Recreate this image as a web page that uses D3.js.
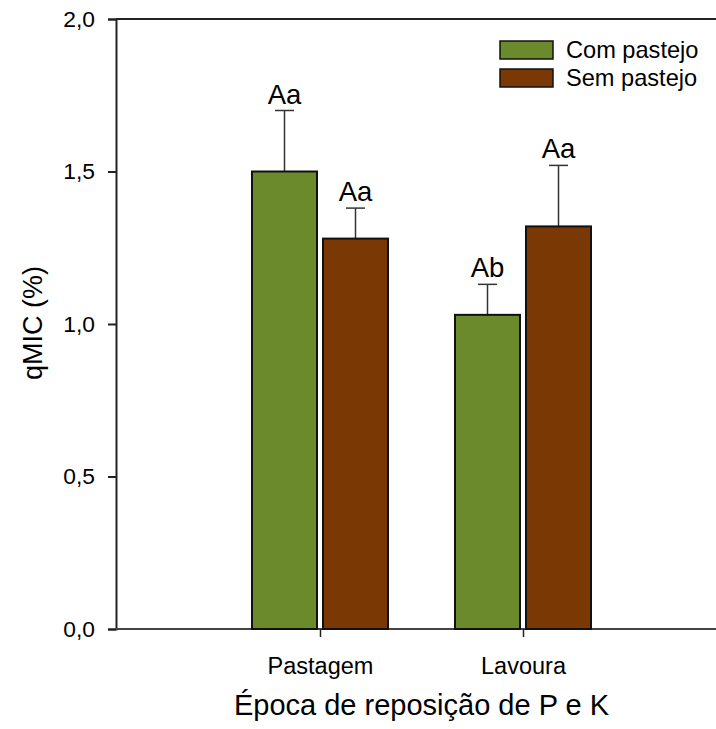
<!DOCTYPE html>
<html><head><meta charset="utf-8">
<script src="https://cdn.jsdelivr.net/npm/d3@7"></script>
<style>body{margin:0;background:#fff}svg{display:block}text{font-family:Arial,"Liberation Sans",sans-serif;fill:#000}</style>
</head><body>
<svg id="c" width="716" height="729"></svg>
<script>
const categories = ["Pastagem", "Lavoura"];
const seriesNames = ["Com pastejo", "Sem pastejo"];
const comPastejo = [1.50, 1.03];
const semPastejo = [1.28, 1.32];
const comErr = [0.20, 0.10];
const semErr = [0.10, 0.20];
const comLetters = ["Aa", "Ab"];
const semLetters = ["Aa", "Aa"];
const yTicks = [0, 0.5, 1.0, 1.5, 2.0];
const colors = ["#6b8a2b", "#7a3805"];

(function () {
const svg = d3.select("#c");
const mLeft = 116, mRight = 716, mTop = 19, mBottom = 629;
const y = d3.scaleLinear().domain([0, 2]).range([mBottom, mTop]);
const x = d3.scaleLinear().domain([0, 3]).range([117, 726]);
const barW = 65, gap = 3;

svg.append("line").attr("x1", mLeft).attr("x2", mRight).attr("y1", mTop).attr("y2", mTop)
  .attr("stroke", "#222").attr("stroke-width", 2);

const ya = svg.append("g").attr("transform", `translate(${mLeft},0)`)
  .call(d3.axisLeft(y).tickValues(yTicks).tickSize(8).tickPadding(13)
    .tickFormat(d => d3.format(".1f")(d).replace(".", ",")));
ya.select(".domain").attr("stroke", "#222").attr("stroke-width", 2);
ya.selectAll(".tick line").attr("stroke", "#222").attr("stroke-width", 2);
ya.selectAll("text").attr("font-size", 22.8).attr("font-family", "Arial").attr("fill", "#000");

const xa = svg.append("g").attr("transform", `translate(0,${mBottom})`)
  .call(d3.axisBottom(x).tickValues([1, 2]).tickSize(8).tickPadding(20).tickFormat(d => categories[d - 1]));
xa.select(".domain").attr("d", `M${mLeft},0H${mRight}`).attr("stroke", "#444").attr("stroke-width", 2);
xa.selectAll(".tick line").attr("stroke", "#222").attr("stroke-width", 1.5);
xa.selectAll("text").attr("font-size", 23.5).attr("font-family", "Arial").attr("fill", "#000");

const series = [
  {vals: comPastejo, err: comErr, lab: comLetters, off: -1},
  {vals: semPastejo, err: semErr, lab: semLetters, off: 1}
];
series.forEach((s, si) => {
  categories.forEach((c, i) => {
    const cx = x(i + 1);
    const bx = s.off < 0 ? cx - gap - barW : cx + gap;
    const mid = bx + barW / 2;
    svg.append("line").attr("x1", mid).attr("x2", mid)
      .attr("y1", y(s.vals[i])).attr("y2", y(s.vals[i] + s.err[i]))
      .attr("stroke", "#333").attr("stroke-width", 1.5);
    svg.append("line").attr("x1", mid - 9.5).attr("x2", mid + 9.5)
      .attr("y1", y(s.vals[i] + s.err[i])).attr("y2", y(s.vals[i] + s.err[i]))
      .attr("stroke", "#333").attr("stroke-width", 1.5);
    svg.append("rect").attr("x", bx).attr("y", y(s.vals[i]))
      .attr("width", barW).attr("height", y(0) - y(s.vals[i]))
      .attr("fill", colors[si]).attr("stroke", "#111").attr("stroke-width", 2);
    svg.append("text").attr("x", mid).attr("y", y(s.vals[i] + s.err[i]) - 7)
      .attr("text-anchor", "middle").attr("font-size", 27.5).text(s.lab[i]);
  });
});

seriesNames.forEach((n, i) => {
  const ly = 41 + i * 28;
  svg.append("rect").attr("x", 500).attr("y", ly).attr("width", 53).attr("height", 18)
    .attr("fill", colors[i]).attr("stroke", "#111").attr("stroke-width", 1.5);
  svg.append("text").attr("x", 566).attr("y", ly + 16.5).attr("font-size", 23.6).text(n);
});

svg.append("text").attr("x", 421.5).attr("y", 715).attr("text-anchor", "middle")
  .attr("font-size", 29).text("Época de reposição de P e K");
svg.append("text").attr("transform", "translate(42,323) rotate(-90)").attr("text-anchor", "middle")
  .attr("font-size", 27).text("qMIC (%)");
})();
</script>
</body></html>
